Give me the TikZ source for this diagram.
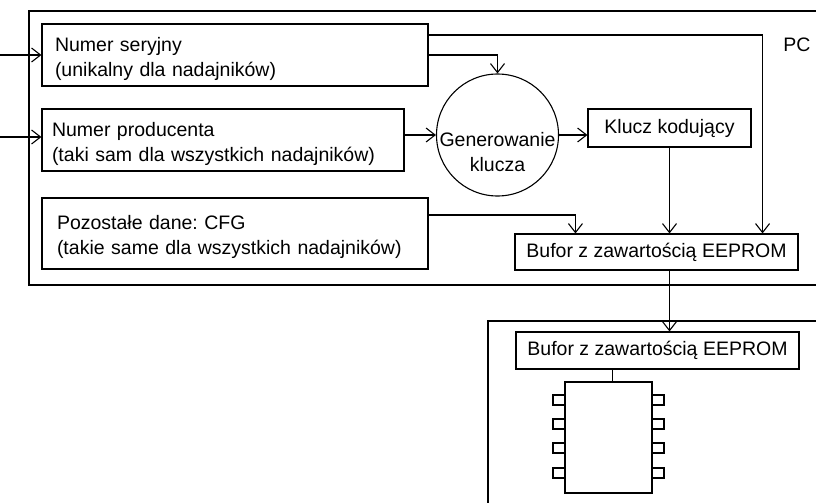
\documentclass[tikz,border=0pt]{standalone}
\usepackage{fontspec}
\setmainfont{Liberation Sans}
\usetikzlibrary{arrows.meta,positioning}
\frenchspacing

\begin{document}
\begin{tikzpicture}[x=1pt,y=-1pt,
	every node/.style={font=\fontsize{19.5}{25}\selectfont},
	lin/.style={line width=1.1pt},
	blok/.style={draw,lin,inner sep=0pt},
	lewy/.style={blok,align=left,text height=22pt},
	pol/.style={lin,-{Straight Barb[length=9pt,width=14pt]}}]
	\useasboundingbox (0,0) rectangle (816,503);
	%PC
	\draw[lin] (816,11) -- (29,11) -- (29,285) -- (816,285);
	\node (pc) at (797,45) {PC};
	% Dane wejsciowe
	\node[lewy,text width=360pt,inner xsep=13pt,minimum height=62pt] (ser) at (235,55) {Numer seryjny\\(unikalny dla nadajników)};
	\node[lewy,text width=342pt,inner xsep=10pt,minimum height=62pt] (prod) at (223,140) {Numer producenta\\(taki sam dla wszystkich nadajników)};
	\node[lewy,text width=356pt,inner xsep=15pt,minimum height=71pt] (cfg) at (235,233.5) {Pozostałe dane: CFG\\(takie same dla wszystkich nadajników)};
	\coordinate (we1) at (0,55);
	\coordinate (we2) at (0,137);
	\draw[pol] (we1) -- (we1 -| ser.west);
	\draw[pol] (we2) -- (we2 -| prod.west);
	% Generowanie
	\node[draw,lin,circle,minimum size=122pt,inner sep=0pt] (gen) at (497.5,135) {};
	\node[align=center] (gentxt) at (497.5,152) {Generowanie\\klucza};
	\node[blok,minimum width=163pt,minimum height=38pt] (klucz) at (669.5,128) {Klucz kodujący};
	\node[blok,minimum width=283pt,minimum height=36pt] (buf) at (656.5,252) {Bufor z zawartością EEPROM};
	%Polaczenia
	\draw[pol] ([yshift=20pt]ser.east) -| ([xshift=-36pt]buf.north east);
	\draw[pol] (ser.east) -| (gen.north);
	\draw[pol] (prod.east |- gen.west) -- (gen.west);
	\draw[pol] (gen.east) -- (gen.east -| klucz.west);
	\draw[pol] (klucz.south) -- (klucz.south |- buf.north);
	\draw[pol] ([yshift=18.5pt]cfg.east) -| ([xshift=61pt]buf.north west);
	% Nadajnik
	\draw[lin] (816,321) -- (488,321) -- (488,503);
	\node[blok,minimum width=283pt,minimum height=37pt] (buf2) at (657.5,350.5) {Bufor z zawartością EEPROM};
	\draw[pol] (klucz.south |- buf.south) -- (klucz.south |- buf2.north);
	\node[blok,minimum width=87pt,minimum height=111pt] (chip) at (608.5,437.5) {};
	\draw[lin] ([xshift=4pt]chip.north) -- ([xshift=4pt]chip.north |- buf2.south);
	% nozki
	\foreach \y in {400,424,448,473} {
		\draw[lin] (553,\y-5) rectangle (565,\y+5);
		\draw[lin] (652,\y-5) rectangle (664,\y+5);
	}
\end{tikzpicture}
\end{document}
